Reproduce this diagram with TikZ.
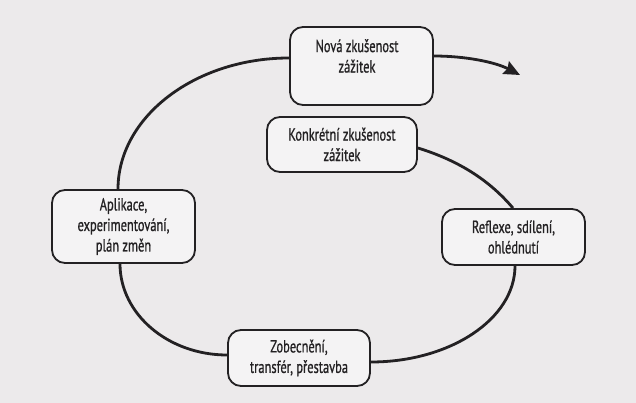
\documentclass[tikz,border=0pt]{standalone}
\usepackage{fontspec}
\setmainfont{PT Sans}[FakeStretch=0.71,FakeBold=0.8]
\usetikzlibrary{arrows.meta,calc}
\definecolor{bg}{RGB}{236,234,235}
\definecolor{boxfill}{RGB}{244,243,244}
\definecolor{ink}{RGB}{35,33,35}
\tikzset{
  stage/.style={draw=ink, line width=1.8pt, rounded corners=13pt, fill=boxfill, inner sep=0pt},
  lbl/.style={align=center, font=\fontsize{17.5}{20.5}\selectfont, text=ink, inner sep=0pt},
  flow/.style={draw=ink, line width=2.8pt},
}
\begin{document}
\begin{tikzpicture}[x=1pt,y=-1pt]
\fill[bg] (0,0) rectangle (636,403);
\useasboundingbox (0,0) rectangle (636,403);

\node[stage, minimum width=143pt, minimum height=78pt] (nova) at (361.5,66) {};
\node[lbl] (novat) at (357,56) {Nová zkušenost\\zážitek};
\node[stage,lbl,minimum width=150pt,minimum height=55pt] (konk) at (342,144.5) {Konkrétní zkušenost\\zážitek};
\node[stage,lbl,minimum width=143pt,minimum height=73pt] (apl) at (123.5,226.5) {Aplikace,\\experimentování,\\plán změn};
\node[stage,lbl,minimum width=143pt,minimum height=56pt] (refl) at (513.5,237) {Reflexe, sdílení,\\ohlédnutí};
\node[stage,lbl,minimum width=142pt,minimum height=56pt] (zob) at (299,358) {Zobecnění,\\transfér, přestavba};
\coordinate (tip) at (520,75);

\draw[flow] ($(nova.west)+(0,-8)$) .. controls (195,58) and (118,117) .. ($(apl.north)+(-5.5,0)$);
\draw[flow] ($(apl.south)+(-3.5,0)$) .. controls (120,314) and (168,355) .. ($(zob.west)+(0,-3)$);
\draw[flow] ($(zob.east)+(0,4)$) .. controls (450,362) and (515,319) .. ($(refl.south)+(1.5,0)$);
\draw[flow] ($(refl.north)+(-0.5,0)$) .. controls (490,181) and (460,161) .. ($(konk.east)+(0,3.5)$);
\draw[flow, -{Stealth[length=16pt,width=14pt,inset=2pt]}] ($(nova.east)+(0,-10)$) .. controls (465,56) and (495,62) .. (tip);
\end{tikzpicture}
\end{document}
